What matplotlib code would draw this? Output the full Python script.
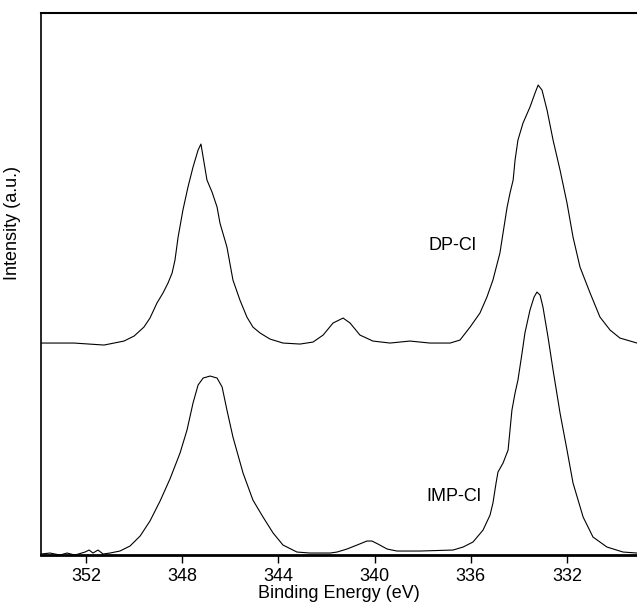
import matplotlib.pyplot as plt

plt.rcParams['font.family'] = ['Liberation Sans', 'DejaVu Sans']

# DP-Cl spectrum (offset trace)
dp_energy = [353.87, 352.50, 351.25, 350.42, 350.00, 349.59, 349.34, 349.05, 348.80,
             348.59, 348.42, 348.30, 348.17, 347.97, 347.76, 347.55, 347.34, 347.22,
             347.13, 346.97, 346.76, 346.55, 346.43, 346.14, 345.89, 345.60, 345.31,
             345.06, 344.76, 344.35, 343.81, 343.10, 342.56, 342.14, 341.73, 341.31,
             341.02, 340.61, 340.07, 339.36, 338.53, 337.70, 336.86, 336.45, 336.03,
             335.62, 335.33, 335.08, 334.79, 334.66, 334.49, 334.37, 334.24, 334.16,
             334.04, 333.83, 333.54, 333.33, 333.20, 333.04, 332.83, 332.58, 332.29,
             332.00, 331.75, 331.46, 331.04, 330.63, 330.21, 329.80, 329.09]
dp_int = [2.12, 2.12, 2.10, 2.14, 2.19, 2.28, 2.37, 2.52, 2.62,
          2.72, 2.82, 2.95, 3.18, 3.45, 3.68, 3.88, 4.05, 4.11,
          3.98, 3.75, 3.63, 3.48, 3.32, 3.08, 2.75, 2.55, 2.38,
          2.28, 2.22, 2.16, 2.12, 2.11, 2.13, 2.20, 2.32, 2.37,
          2.32, 2.20, 2.14, 2.12, 2.14, 2.12, 2.12, 2.15, 2.28,
          2.42, 2.58, 2.75, 3.02, 3.22, 3.48, 3.62, 3.75, 3.95,
          4.15, 4.32, 4.48, 4.62, 4.70, 4.65, 4.45, 4.15, 3.85,
          3.52, 3.18, 2.88, 2.62, 2.38, 2.25, 2.17, 2.12]

# IMP-Cl spectrum
imp_energy = [353.87, 353.50, 353.08, 352.79, 352.46, 352.04, 351.87, 351.71, 351.50,
              351.29, 351.00, 350.59, 350.17, 349.75, 349.34, 348.92, 348.51, 348.09,
              347.80, 347.55, 347.34, 347.13, 346.84, 346.55, 346.34, 346.14, 345.89,
              345.47, 345.06, 344.64, 344.22, 343.81, 343.23, 342.69, 341.85, 341.56,
              341.15, 340.73, 340.32, 340.11, 339.86, 339.48, 339.07, 338.11, 336.74,
              336.32, 335.91, 335.49, 335.20, 335.08, 334.95, 334.87, 334.66, 334.45,
              334.37, 334.29, 334.16, 334.04, 333.87, 333.75, 333.54, 333.37, 333.25,
              333.12, 333.00, 332.79, 332.58, 332.29, 332.00, 331.75, 331.33, 330.92,
              330.34, 329.67, 329.09]
imp_int = [0.01, 0.02, 0.00, 0.02, 0.00, 0.03, 0.05, 0.02, 0.05,
           0.01, 0.02, 0.04, 0.09, 0.19, 0.34, 0.54, 0.76, 1.02,
           1.25, 1.52, 1.70, 1.77, 1.79, 1.77, 1.68, 1.45, 1.18,
           0.82, 0.55, 0.38, 0.22, 0.10, 0.03, 0.02, 0.02, 0.03,
           0.06, 0.10, 0.14, 0.14, 0.11, 0.06, 0.04, 0.04, 0.05,
           0.08, 0.13, 0.25, 0.40, 0.52, 0.72, 0.83, 0.92, 1.05,
           1.25, 1.45, 1.62, 1.75, 2.02, 2.22, 2.45, 2.58, 2.63,
           2.60, 2.48, 2.18, 1.85, 1.42, 1.05, 0.72, 0.38, 0.18,
           0.08, 0.03, 0.02]

xticks = [352, 348, 344, 340, 336, 332]

fig = plt.figure(figsize=(6.37, 6.11), dpi=100)
ax = fig.add_axes([0.0644, 0.0916, 0.9356, 0.887])

ax.plot(dp_energy, dp_int, color='black', lw=0.8)
ax.plot(imp_energy, imp_int, color='black', lw=0.8)

ax.text(336.78, 3.10, 'DP-Cl', fontsize=13, ha='center', va='center')
ax.text(336.70, 0.59, 'IMP-Cl', fontsize=13, ha='center', va='center')

ax.set_xlim(353.87, 329.09)
ax.set_ylim(0, 5.42)
ax.set_xticks(xticks)
ax.set_yticks([])
ax.tick_params(axis='x', direction='out', length=6, width=1, labelsize=13, pad=3)

ax.spines['right'].set_visible(False)
ax.spines['left'].set_linewidth(1.2)
ax.spines['top'].set_linewidth(1.5)
ax.spines['bottom'].set_linewidth(2)

ax.set_xlabel('Binding Energy (eV)', fontsize=13, labelpad=0)
ax.set_ylabel('Intensity (a.u.)', fontsize=13)
ax.yaxis.set_label_coords(-0.034, 0.613)

fig.savefig('out.png', dpi=100)
